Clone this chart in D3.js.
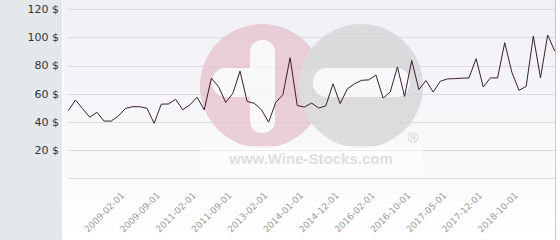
<!DOCTYPE html>
<html>
<head>
<meta charset="utf-8">
<script src="https://cdn.jsdelivr.net/npm/d3@7"></script>
<style>
  body { margin: 0; background: #fff; }
  svg { display: block; }
</style>
</head>
<body>
<script>
// prices, one per period (equal spacing)
var prices = [48, 55.5, 49.4, 43.3, 46.8, 40.6, 40.6, 44.2, 49.6, 50.8,
              50.8, 49.6, 39, 52.6, 52.7, 56, 48.6, 52.1, 57.5, 48.6,
              71, 65, 53.8, 60.2, 76, 54.5, 53.2, 48.6, 39.8, 53.8,
              59.3, 85.5, 51.6, 50.5, 53.4, 49.8, 51.4, 67, 52.9, 63.4,
              67, 69.5, 69.8, 73.2, 56.9, 61.2, 79, 58.1, 83.6, 62.9,
              69.3, 61.2, 68.8, 70.5, 70.7, 71, 71.2, 84.8, 64.8, 71.2,
              71.2, 96.2, 75.2, 62.4, 65.2, 100.9, 71.2, 101.6, 90.2];
var tickLabels = ['2009-02-01', '2009-09-01', '2011-02-01', '2011-09-01', '2013-02-01', '2014-01-01',
                  '2014-12-01', '2016-02-01', '2016-10-01', '2017-05-01', '2017-12-01', '2018-10-01'];
var yTicks = [20, 40, 60, 80, 100, 120];

var w = 560, h = 240;
var svg = d3.select('body').append('svg')
    .attr('width', w)
    .attr('height', h);

var defs = svg.append('defs');
var grad = defs.append('linearGradient')
    .attr('id', 'bg')
    .attr('x1', 0).attr('y1', 0).attr('x2', 0).attr('y2', 1);
grad.append('stop').attr('offset', '0%').attr('stop-color', '#efeff5');
grad.append('stop').attr('offset', '100%').attr('stop-color', '#ffffff');

// left panel + plot panel
svg.append('rect').attr('x', 0).attr('y', 0).attr('width', 62).attr('height', h).attr('fill', '#e5e8eb');
svg.append('rect').attr('x', 63).attr('y', 0).attr('width', 493).attr('height', h).attr('fill', 'url(#bg)');
svg.append('line').attr('x1', 555.5).attr('x2', 555.5).attr('y1', 0).attr('y2', h)
    .attr('stroke', '#c8c8c8');

var xScale = d3.scalePoint()
    .domain(d3.range(prices.length))
    .range([68.3, 554.8]);

var yScale = d3.scaleLinear()
    .domain([0, 120])
    .range([178.3, 9.1]);

// gridlines
svg.append('g')
    .selectAll('line')
    .data([0].concat(yTicks))
    .enter().append('line')
    .attr('x1', 68)
    .attr('x2', 555)
    .attr('y1', function (d) { return Math.round(yScale(d)) + 0.5; })
    .attr('y2', function (d) { return Math.round(yScale(d)) + 0.5; })
    .attr('stroke', '#dcdcdf');

// watermark
var wm = svg.append('g').attr('opacity', 0.75);
wm.append('circle').attr('cx', 262).attr('cy', 86).attr('r', 62).attr('fill', '#e6c2cc');
wm.append('rect').attr('x', 250).attr('y', 40).attr('width', 25).attr('height', 93).attr('rx', 12)
    .attr('fill', '#fafafc');
wm.append('rect').attr('x', 212).attr('y', 68).attr('width', 60).attr('height', 29).attr('rx', 14)
    .attr('fill', '#fafafc');
wm.append('circle').attr('cx', 361).attr('cy', 86).attr('r', 62).attr('fill', '#d4d4d6');
wm.append('rect').attr('x', 313).attr('y', 68).attr('width', 97).attr('height', 29).attr('rx', 14)
    .attr('fill', '#fafafc');
wm.append('rect').attr('x', 200).attr('y', 146).attr('width', 222).attr('height', 24)
    .attr('fill', '#ffffff').attr('opacity', 0.6);
wm.append('text').attr('x', 413).attr('y', 143)
    .attr('text-anchor', 'middle')
    .style('font-family', 'Liberation Sans, Arial, sans-serif')
    .style('font-size', '15px')
    .attr('fill', '#c8c8c8')
    .text('®');
wm.append('text').attr('x', 311).attr('y', 164)
    .attr('text-anchor', 'middle')
    .style('font-family', 'Liberation Sans, Arial, sans-serif')
    .style('font-size', '15px')
    .style('font-weight', 'bold')
    .attr('fill', '#d6d6d6')
    .text('www.Wine-Stocks.com');

// y labels
svg.append('g')
    .selectAll('text')
    .data(yTicks)
    .enter().append('text')
    .attr('x', 59)
    .attr('y', function (d) { return yScale(d); })
    .attr('dy', '0.35em')
    .attr('text-anchor', 'end')
    .style('font-family', 'DejaVu Sans, sans-serif')
    .style('font-size', '11px')
    .attr('fill', '#333')
    .text(function (d) { return d + ' $'; });

// x labels, every 5th period from index 8
svg.append('g')
    .selectAll('text')
    .data(tickLabels)
    .enter().append('text')
    .attr('transform', function (d, i) {
        return 'translate(' + (xScale(8 + i * 5) - 0.5) + ',196) rotate(-45)';
    })
    .attr('text-anchor', 'end')
    .style('font-family', 'DejaVu Sans, sans-serif')
    .style('font-size', '9px')
    .attr('fill', '#9a9a9a')
    .text(function (d) { return d; });

// price line
var line = d3.line()
    .x(function (d, i) { return xScale(i); })
    .y(function (d) { return yScale(d); });

svg.append('path')
    .datum(prices)
    .attr('d', line)
    .attr('fill', 'none')
    .attr('stroke', '#3a1e2c')
    .attr('stroke-width', 1);
</script>
</body>
</html>
